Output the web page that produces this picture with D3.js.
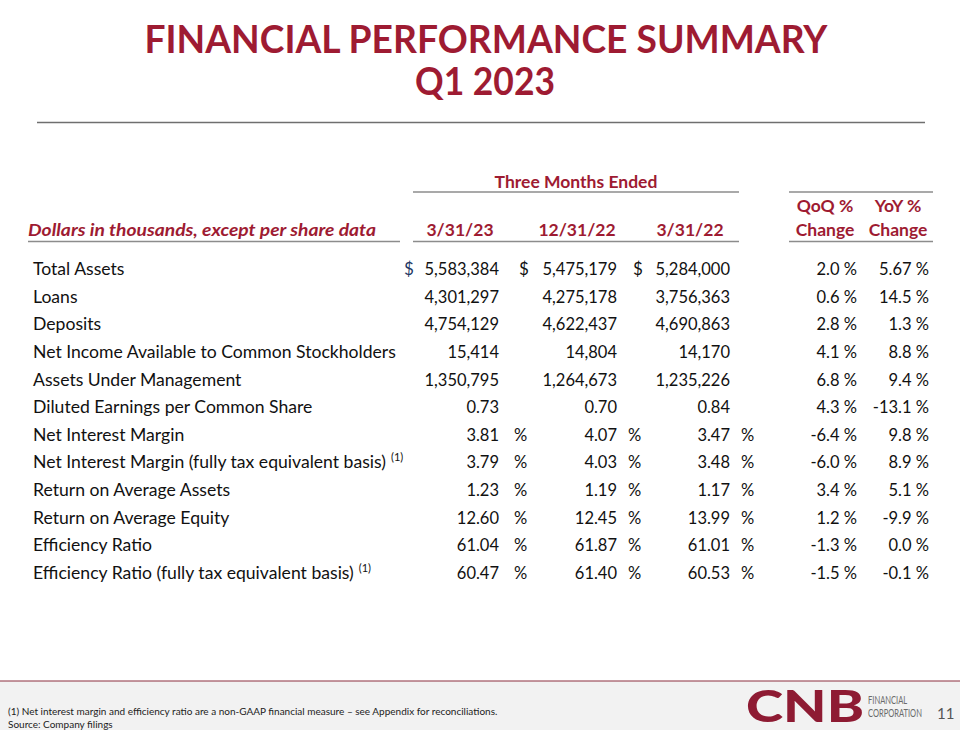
<!DOCTYPE html>
<html><head><meta charset="utf-8">
<script src="https://cdn.jsdelivr.net/npm/d3@7"></script>
<style>
html,body{margin:0;padding:0;background:#fff;}
svg{display:block;font-family:Lato,"Open Sans",sans-serif;}
</style></head>
<body><svg id="c" width="960" height="730"></svg>
<script>
const titleLines = ["FINANCIAL PERFORMANCE SUMMARY", "Q1 2023"];
const groupHeader = "Three Months Ended";
const periods = ["3/31/23", "12/31/22", "3/31/22"];
const changeHeaders = [["QoQ %", "Change"], ["YoY %", "Change"]];
const labelHeader = "Dollars in thousands, except per share data";
const metrics = [
  "Total Assets", "Loans", "Deposits", "Net Income Available to Common Stockholders",
  "Assets Under Management", "Diluted Earnings per Common Share", "Net Interest Margin",
  "Net Interest Margin (fully tax equivalent basis)", "Return on Average Assets",
  "Return on Average Equity", "Efficiency Ratio", "Efficiency Ratio (fully tax equivalent basis)"
];
const footnoteFlags = [0,0,0,0,0,0,0,1,0,0,0,1];
const valuesQ123 = ["5,583,384","4,301,297","4,754,129","15,414","1,350,795","0.73","3.81","3.79","1.23","12.60","61.04","60.47"];
const valuesQ422 = ["5,475,179","4,275,178","4,622,437","14,804","1,264,673","0.70","4.07","4.03","1.19","12.45","61.87","61.40"];
const valuesQ122 = ["5,284,000","3,756,363","4,690,863","14,170","1,235,226","0.84","3.47","3.48","1.17","13.99","61.01","60.53"];
const qoqChange = ["2.0","0.6","2.8","4.1","6.8","4.3","-6.4","-6.0","3.4","1.2","-1.3","-1.5"];
const yoyChange = ["5.67","14.5","1.3","8.8","9.4","-13.1","9.8","8.9","5.1","-9.9","0.0","-0.1"];
const unitPrefix = ["$","","","","","","","","","","",""];
const unitSuffix = ["","","","","","","%","%","%","%","%","%"];
const footnotes = ["(1) Net interest margin and efficiency ratio are a non-GAAP financial measure  \u2013 see Appendix for reconciliations.", "Source: Company filings"];
const logoWords = ["FINANCIAL", "CORPORATION"];
const pageNumber = "11";

const RED = "#9E1B32", TXT = "#111";
const svg = d3.select("#c");

// Title
svg.append("text").attr("x",486).attr("y",53).attr("text-anchor","middle")
  .attr("font-size",37.5).attr("font-weight",700).attr("fill",RED)
  .attr("textLength",683).attr("lengthAdjust","spacingAndGlyphs").text(titleLines[0]);
svg.append("text").attr("x",485).attr("y",95).attr("text-anchor","middle")
  .attr("font-size",37.5).attr("font-weight",700).attr("fill",RED)
  .attr("textLength",140).attr("lengthAdjust","spacingAndGlyphs").text(titleLines[1]);
svg.append("line").attr("x1",37).attr("x2",925).attr("y1",122.5).attr("y2",122.5)
  .attr("stroke","#6f6f6f").attr("stroke-width",1.5);

// Column scales
const colScale = d3.scaleOrdinal().domain(periods).range([499, 617, 730]);
const chgScale = d3.scaleOrdinal().domain(["QoQ","YoY"]).range([857, 929]);
const headerCenter = d3.scaleOrdinal().domain(periods).range([460, 577, 690]);
const rowY = d3.scalePoint().domain(metrics).range([275, 579]);

// Group header
svg.append("text").attr("x",576).attr("y",188).attr("text-anchor","middle")
  .attr("font-size",17.5).attr("font-weight",700).attr("fill",RED).text(groupHeader);
const hl = [[413,739,192],[789,933,192],[28,400,241.5],[413,739,241.5],[789,933,241.5]];
svg.selectAll("line.hl").data(hl).join("line").attr("class","hl")
  .attr("x1",d=>d[0]).attr("x2",d=>d[1]).attr("y1",d=>d[2]).attr("y2",d=>d[2])
  .attr("stroke","#8c8c8c").attr("stroke-width",1.5);

svg.append("text").attr("x",28).attr("y",236).attr("font-size",17).attr("font-weight",700)
  .attr("font-style","italic").attr("fill",RED).attr("textLength",348).attr("lengthAdjust","spacingAndGlyphs").text(labelHeader);
svg.selectAll("text.ph").data(periods).join("text").attr("class","ph")
  .attr("x",d=>headerCenter(d)).attr("y",236).attr("text-anchor","middle")
  .attr("font-size",17.5).attr("font-weight",700).attr("fill",RED).text(d=>d);
const chgCenters = [825, 898];
changeHeaders.forEach((h,i)=>{
  svg.append("text").attr("x",chgCenters[i]).attr("y",212).attr("text-anchor","middle")
    .attr("font-size",17.5).attr("font-weight",700).attr("fill",RED).text(h[0]);
  svg.append("text").attr("x",chgCenters[i]).attr("y",236).attr("text-anchor","middle")
    .attr("font-size",17.5).attr("font-weight",700).attr("fill",RED).text(h[1]);
});

// Rows
const rows = svg.selectAll("g.row").data(metrics).join("g").attr("class","row")
  .attr("transform",d=>`translate(0,${rowY(d)})`).attr("fill",TXT);
rows.append("text").attr("x",33).attr("font-size",17.6).text(d=>d).each(function(d,i){
  if(footnoteFlags[i]){
    d3.select(this).append("tspan").attr("dx",5).attr("dy",-7).attr("font-size",11).text("(1)");
  }
});
const series = [valuesQ123, valuesQ422, valuesQ122];
const dollarX = [404, 519, 633];
const pctX = [514, 628, 741];
series.forEach((vals,k)=>{
  const x = colScale(periods[k]);
  rows.append("text").attr("x",x).attr("text-anchor","end").attr("font-size",16.5).text((d,i)=>vals[i]);
  rows.append("text").attr("x",dollarX[k]).attr("font-size",17).attr("fill",k===0?"#1F3864":TXT).text((d,i)=>unitPrefix[i]);
  rows.append("text").attr("x",pctX[k]).attr("font-size",16.5).text((d,i)=>unitSuffix[i]);
});
[["QoQ",qoqChange],["YoY",yoyChange]].forEach(([key,vals])=>{
  rows.append("text").attr("x",chgScale(key)).attr("text-anchor","end").attr("font-size",16.5)
    .text((d,i)=>vals[i] + " %");
});

// Footer
svg.append("rect").attr("x",0).attr("y",681).attr("width",960).attr("height",49).attr("fill","#f2f2f2");
svg.append("line").attr("x1",0).attr("x2",960).attr("y1",681).attr("y2",681).attr("stroke","#8b2e3e").attr("stroke-width",1);
svg.selectAll("text.fn").data(footnotes).join("text").attr("class","fn")
  .attr("x",8).attr("y",(d,i)=>715+i*12.5).attr("font-size",10).attr("fill","#222")
  .text(d=>d);
svg.append("text").attr("x",746).attr("y",722).attr("font-size",44).attr("font-weight",900)
  .attr("fill","#8E1B33").attr("textLength",118).attr("lengthAdjust","spacingAndGlyphs").text("CNB");
svg.selectAll("text.lw").data(logoWords).join("text").attr("class","lw")
  .attr("transform",(d,i)=>`translate(868,${704+i*13}) scale(0.72,1)`)
  .attr("font-size",10.5).attr("fill","#6b6b6b").text(d=>d);
svg.append("text").attr("x",937).attr("y",719).attr("font-size",15).attr("fill","#555").text(pageNumber);
</script></body></html>
